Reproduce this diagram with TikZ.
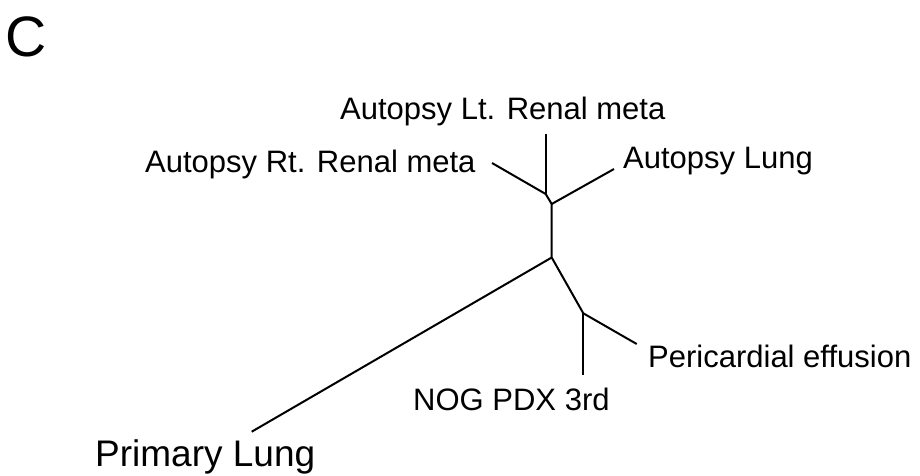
\documentclass[tikz,border=0pt]{standalone}
\usepackage{fontspec}
\setmainfont{Liberation Sans}
\begin{document}
\begin{tikzpicture}[x=1pt,y=-1pt,
  branch/.style={line width=2pt, black},
  leaflabel/.style={anchor=base west, inner sep=0pt, font=\fontsize{31}{37}\selectfont},
  biglabel/.style={anchor=base west, inner sep=0pt, font=\fontsize{37}{44}\selectfont},
  panellabel/.style={anchor=base west, inner sep=0pt, font=\fontsize{57}{64}\selectfont}]
\useasboundingbox (0,0) rectangle (920,475);
% junctions
\coordinate (j1) at (545.7,194);
\coordinate (j2) at (551.7,204);
\coordinate (j3) at (551.7,257.5);
\coordinate (j4) at (583.3,313.3);
% leaf ends
\coordinate (lLt) at (545.7,134);
\coordinate (lRt) at (492,163);
\coordinate (lLung) at (614,169);
\coordinate (lPrim) at (251.7,431.7);
\coordinate (lNog) at (583.3,375);
\coordinate (lPeri) at (636.7,344);
% branches
\draw[branch] (lRt) -- (j1) -- (j2) -- (j3) -- (j4) -- (lPeri);
\draw[branch] (lLt) -- (j1);
\draw[branch] (j2) -- (lLung);
\draw[branch] (j3) -- (lPrim);
\draw[branch] (j4) -- (lNog);
% labels
\node[panellabel] (panel) at (5,56) {C};
\node[leaflabel] (tLt) at (340,119.5) {Autopsy Lt. Renal meta};
\node[leaflabel] (tRt) at (145,172.3) {Autopsy Rt. Renal meta};
\node[leaflabel] (tLung) at (623,168.6) {Autopsy Lung};
\node[leaflabel] (tPeri) at (648,367.6) {Pericardial effusion};
\node[leaflabel] (tNog) at (413,410.6) {NOG PDX 3rd};
\node[biglabel] (tPrim) at (95,466) {Primary Lung};
\end{tikzpicture}
\end{document}
